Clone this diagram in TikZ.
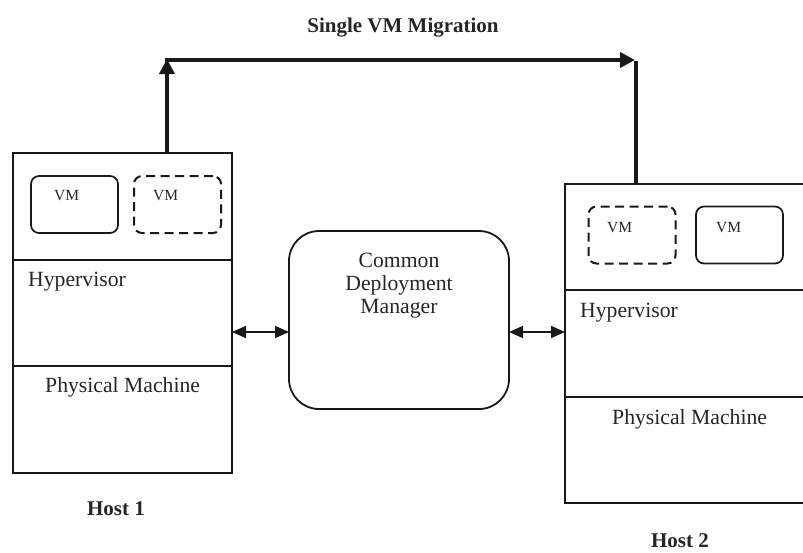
\documentclass[tikz,border=0pt]{standalone}
\usepackage{fontspec}
\setmainfont{Liberation Serif}
\usetikzlibrary{arrows.meta}
\begin{document}
\begin{tikzpicture}[x=1pt,y=-1pt,
  box/.style={draw=black!90, line width=1.8pt},
  vmsolid/.style={draw=black!90, line width=1.7pt, rounded corners=8pt, minimum width=87pt, minimum height=57pt, inner sep=0pt},
  vmdash/.style={vmsolid, line width=2pt, dash pattern=on 9pt off 5.5pt},
  txt/.style={inner sep=0pt, anchor=base west, font=\fontsize{21.7}{23}\selectfont, text=black!85},
  vmtxt/.style={inner sep=0pt, anchor=base west, font=\fontsize{15.5}{17}\selectfont, text=black!85},
  lbl/.style={inner sep=0pt, anchor=base, font=\fontsize{21}{23}\selectfont\bfseries, text=black!85},
  mig/.style={line width=4.5pt, draw=black!90},
  migtip/.style={mig, -{Triangle[length=15pt,width=15pt]}},
  dbl/.style={line width=1.8pt, draw=black!90, {Triangle[length=14pt,width=12pt]}-{Triangle[length=14pt,width=12pt]}}
]
\useasboundingbox (0,0) rectangle (803,552);

% Host 1
\node[box, minimum width=219pt, minimum height=320pt, inner sep=0pt] (h1) at (122.5,313) {};
\coordinate (h1d1l) at (13,260); \coordinate (h1d1r) at (232,260);
\coordinate (h1d2l) at (13,366); \coordinate (h1d2r) at (232,366);
\draw[box] (h1d1l) -- (h1d1r);
\draw[box] (h1d2l) -- (h1d2r);
\node[vmsolid] (vm1a) at (74.5,204.5) {};
\node[vmdash] (vm1b) at (177.5,204.5) {};
\node[vmtxt] (vm1at) at (54,200) {VM};
\node[vmtxt] (vm1bt) at (153,200) {VM};
\node[txt] (hyp1) at (28,286) {Hypervisor};
\node[txt] (pm1) at (45,392) {Physical Machine};
\node[lbl] (host1) at (116,515) {Host 1};

% Host 2 (cut by the right edge)
\coordinate (h2tr) at (803,184); \coordinate (h2tl) at (565,184);
\coordinate (h2bl) at (565,503); \coordinate (h2br) at (803,503);
\draw[box] (h2tr) -- (h2tl) -- (h2bl) -- (h2br);
\coordinate (h2d1l) at (565,290); \coordinate (h2d1r) at (803,290);
\coordinate (h2d2l) at (565,397); \coordinate (h2d2r) at (803,397);
\draw[box] (h2d1l) -- (h2d1r);
\draw[box] (h2d2l) -- (h2d2r);
\node[vmdash] (vm2a) at (632,235) {};
\node[vmsolid] (vm2b) at (739.5,235) {};
\node[vmtxt] (vm2at) at (607,232) {VM};
\node[vmtxt] (vm2bt) at (716,232) {VM};
\node[txt] (hyp2) at (580,317) {Hypervisor};
\node[txt] (pm2) at (612,424) {Physical Machine};
\node[lbl] (host2) at (680,547) {Host 2};

% Common Deployment Manager
\node[box, rounded corners=30pt, minimum width=220pt, minimum height=178pt, inner sep=0pt] (cdm) at (399,320) {};
\node[inner sep=0pt, anchor=base, align=center, font=\fontsize{21.7}{23}\selectfont, text=black!85] (cdmt) at (399,313) {Common\\Deployment\\Manager};

% connectors to CDM
\coordinate (a1l) at (232,332); \coordinate (a1r) at (289,332);
\coordinate (a2l) at (509,332); \coordinate (a2r) at (565,332);
\draw[dbl] (a1l) -- (a1r);
\draw[dbl] (a2l) -- (a2r);

% migration arrow
\coordinate (m1) at (167,153); \coordinate (m2) at (167,59);
\coordinate (m2b) at (165,60); \coordinate (m3) at (635,60);
\coordinate (m4) at (636,61); \coordinate (m5) at (636,184);
\draw[migtip] (m1) -- (m2);
\draw[migtip] (m2b) -- (m3);
\draw[mig] (m4) -- (m5);
\node[lbl] (title) at (403,32) {Single VM Migration};
\end{tikzpicture}
\end{document}
